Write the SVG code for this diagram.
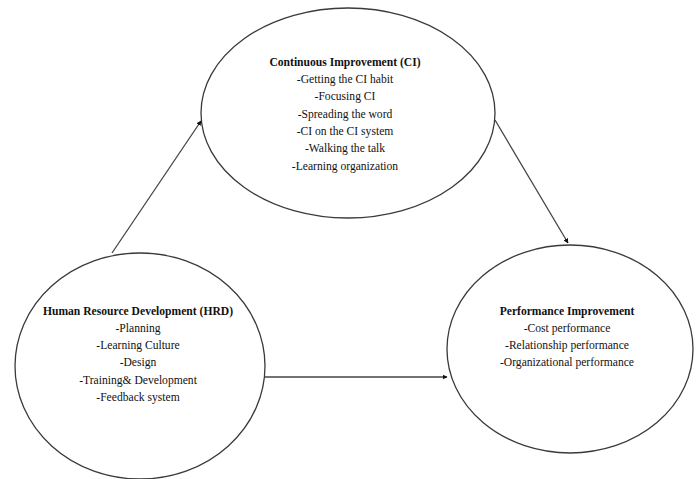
<svg xmlns="http://www.w3.org/2000/svg" width="697" height="479" viewBox="0 0 697 479">
<style>
.node ellipse{fill:#fff;stroke:#3a3a3a;stroke-width:1.3}
text{font-family:"Liberation Serif","Times New Roman",serif;font-size:11.6px;fill:#111;text-anchor:middle}
.t{font-weight:bold}
.edge{stroke:#444;stroke-width:1.3;fill:none;marker-end:url(#ah)}
</style>
<defs>
<marker id="ah" viewBox="0 0 10 10" refX="9" refY="5" markerWidth="5" markerHeight="5" orient="auto" markerUnits="userSpaceOnUse">
<path d="M0,0 L10,5 L0,10 z" fill="#111"/>
</marker>
</defs>
<rect width="697" height="479" fill="#fff"/>
<g id="ci" class="node">
<ellipse cx="348" cy="113" rx="147" ry="105"/>
<text x="345" y="66" class="t">Continuous Improvement (CI)</text>
<text x="345" y="83">-Getting the CI habit</text>
<text x="345" y="100">-Focusing CI</text>
<text x="345" y="118">-Spreading the word</text>
<text x="345" y="135">-CI on the CI system</text>
<text x="345" y="152">-Walking the talk</text>
<text x="345" y="170">-Learning organization</text>
</g>
<g id="hrd" class="node">
<ellipse cx="140" cy="366" rx="125" ry="113"/>
<text x="138" y="315" class="t">Human Resource Development (HRD)</text>
<text x="138" y="332">-Planning</text>
<text x="138" y="349">-Learning Culture</text>
<text x="138" y="366">-Design</text>
<text x="138" y="384">-Training&amp; Development</text>
<text x="138" y="401">-Feedback system</text>
</g>
<g id="pi" class="node">
<ellipse cx="570" cy="349" rx="123" ry="104"/>
<text x="567" y="315" class="t">Performance Improvement</text>
<text x="567" y="332">-Cost performance</text>
<text x="567" y="349">-Relationship performance</text>
<text x="567" y="366">-Organizational performance</text>
</g>
<g id="connectors">
<line class="edge" x1="112" y1="253" x2="201" y2="121"/>
<line class="edge" x1="495" y1="120" x2="568" y2="243"/>
<line class="edge" x1="265" y1="377" x2="447" y2="377"/>
</g>
</svg>
